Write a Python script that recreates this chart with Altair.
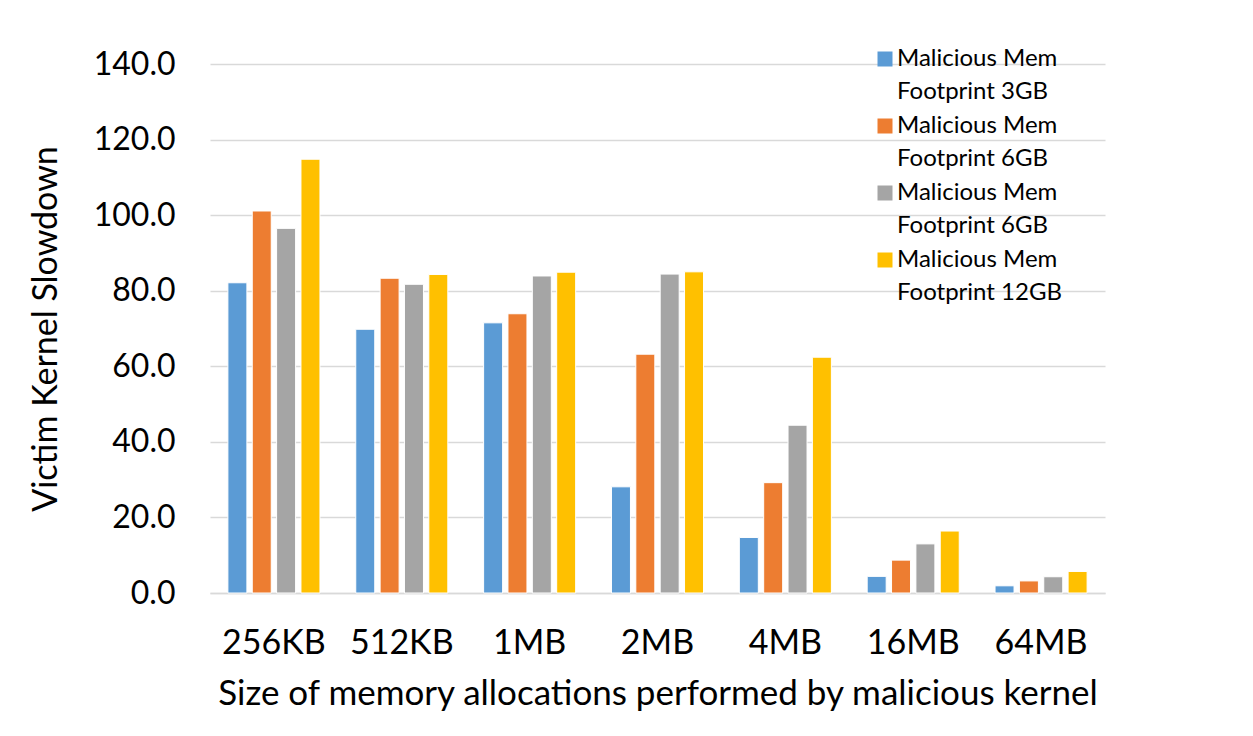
import altair as alt
import pandas as pd

categories = ["256KB", "512KB", "1MB", "2MB", "4MB", "16MB", "64MB"]
series_keys = ["S1", "S2", "S3", "S4"]
series_line1 = ["Malicious Mem", "Malicious Mem", "Malicious Mem", "Malicious Mem"]
series_line2 = ["Footprint 3GB", "Footprint 6GB", "Footprint 6GB", "Footprint 12GB"]
colors = ["#5b9bd5", "#ed7d31", "#a5a5a5", "#ffc000"]

fp_3gb = [82.1, 69.8, 71.5, 28.1, 14.7, 4.4, 1.9]
fp_6gb_a = [101.1, 83.3, 73.9, 63.2, 29.2, 8.7, 3.2]
fp_6gb_b = [96.5, 81.7, 83.9, 84.4, 44.4, 13.0, 4.3]
fp_12gb = [114.8, 84.3, 84.9, 85.0, 62.4, 16.4, 5.7]

y_ticks = [0, 20, 40, 60, 80, 100, 120, 140]

rows = []
for key, vals in zip(series_keys, [fp_3gb, fp_6gb_a, fp_6gb_b, fp_12gb]):
    for c, v in zip(categories, vals):
        rows.append({"size": c, "series": key, "value": v})
df = pd.DataFrame(rows)

label_arr = "[" + ",".join(
    "['%s','%s']" % (a, b) for a, b in zip(series_line1, series_line2)
) + "]"
key_arr = "[" + ",".join("'%s'" % k for k in series_keys) + "]"
label_expr = f"{label_arr}[indexof({key_arr}, datum.label)]"

FONT = "Lato"

chart = alt.Chart(df).mark_bar(stroke="white", strokeWidth=1).encode(
    x=alt.X(
        "size:N",
        sort=categories,
        scale=alt.Scale(paddingInner=0.28, paddingOuter=0.14),
        axis=alt.Axis(
            title="Size of memory allocations performed by malicious kernel",
            labelAngle=0,
            labelFontSize=34,
            titleFontSize=35,
            labelPadding=33,
            titlePadding=16,
            ticks=False,
            domain=True,
            domainColor="#d9d9d9",
            domainWidth=1.5,
            labelColor="#000000",
            titleColor="#000000",
            titleFontWeight="normal",
        ),
    ),
    xOffset=alt.XOffset("series:N", sort=series_keys, scale=alt.Scale(paddingInner=0.22)),
    y=alt.Y(
        "value:Q",
        scale=alt.Scale(domain=[0, 140], nice=False),
        axis=alt.Axis(
            title="Victim Kernel Slowdown",
            values=y_ticks,
            format=".1f",
            labelFontSize=32,
            titleFontSize=34,
            labelPadding=35,
            titlePadding=30,
            ticks=False,
            domain=False,
            grid=True,
            gridColor="#d9d9d9",
            gridWidth=1.5,
            labelColor="#000000",
            titleColor="#000000",
            titleFontWeight="normal",
        ),
    ),
    color=alt.Color(
        "series:N",
        sort=series_keys,
        scale=alt.Scale(domain=series_keys, range=colors),
        legend=alt.Legend(
            title=None,
            orient="none",
            legendX=663,
            legendY=-17,
            labelExpr=label_expr,
            labelFontSize=24,
            labelLimit=400,
            labelColor="#000000",
            symbolType="square",
            symbolSize=225,
            symbolStrokeWidth=0,
            rowPadding=10,
            labelOffset=0,
        ),
    ),
).properties(
    width=895,
    height=529,
    padding={"left": 210, "top": 64, "right": 148, "bottom": 143},
    autosize=alt.AutoSizeParams(type="none"),
).configure(
    font=FONT,
    background="white",
    style={"guide-label": {"lineHeight": 33}},
).configure_view(stroke=None)

chart.save("out.html", embed_options={"renderer": "svg", "actions": False})
